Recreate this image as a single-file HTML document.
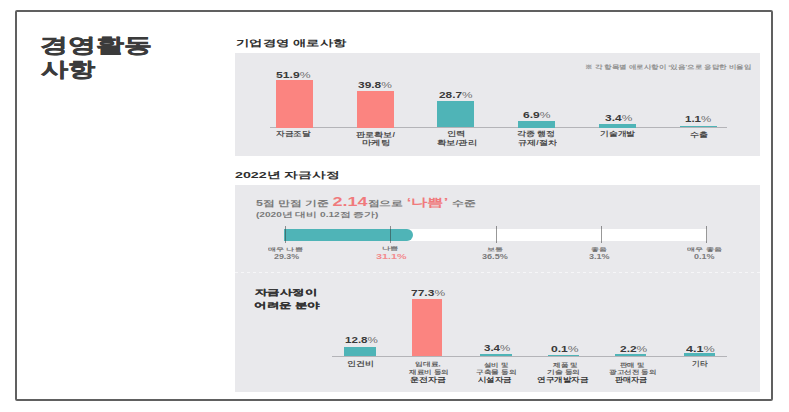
<!DOCTYPE html>
<html><head><meta charset="utf-8">
<style>
html,body{margin:0;padding:0;background:#fff;}
body{width:789px;height:412px;position:relative;overflow:hidden;font-family:"Liberation Sans",sans-serif;color:#3a3a3a;}
.a{position:absolute;white-space:nowrap;line-height:1;transform-origin:0 0;}
.a i{font-style:normal;font-weight:normal;color:#6f6f6f;}
.red{color:#f07a7c;}
.frame{position:absolute;left:15px;top:10px;width:754px;height:386.5px;border:2px solid #606060;border-radius:2px;}
.panel{position:absolute;background:#e9e9ec;}
.bar{position:absolute;}
.pk{background:#fb8480;}
.tl{background:#4fb4b7;}
.axis{position:absolute;height:1px;background:#b4b4b8;}
.tk{position:absolute;width:1px;background:rgba(50,50,50,0.5);}
</style></head>
<body>
<div class="frame"></div>
<div class="panel" style="left:235px;top:53px;width:525px;height:103px;"></div>
<div class="panel" style="left:235px;top:185px;width:525px;height:207px;"></div>

<div class="axis" style="left:270px;top:127px;width:457px;"></div>
<div class="bar pk" style="left:275.5px;top:80px;width:37px;height:47.5px;"></div>
<div class="bar pk" style="left:356.5px;top:91px;width:37px;height:36.5px;"></div>
<div class="bar tl" style="left:437px;top:100.8px;width:37px;height:26.7px;"></div>
<div class="bar tl" style="left:518px;top:120.5px;width:37px;height:7px;"></div>
<div class="bar tl" style="left:598.8px;top:124px;width:37px;height:3.5px;"></div>
<div class="bar tl" style="left:679.5px;top:125.8px;width:37px;height:1.7px;"></div>

<div class="bar" style="left:284px;top:228.6px;width:423px;height:12px;background:#fff;"></div>
<div class="bar tl" style="left:284px;top:228.6px;width:129px;height:12px;border-radius:0 6px 6px 0;"></div>
<div class="tk" style="left:285px;top:226px;height:16.5px;"></div>
<div class="tk" style="left:390px;top:226px;height:16.5px;"></div>
<div class="tk" style="left:496px;top:226px;height:16.5px;"></div>
<div class="tk" style="left:601px;top:226px;height:16.5px;"></div>
<div class="tk" style="left:706px;top:226px;height:16.5px;"></div>

<div style="position:absolute;left:235px;top:272px;width:525px;height:1px;background:repeating-linear-gradient(90deg,#f6f6f8 0 3px,transparent 3px 6px);"></div>

<div class="axis" style="left:332px;top:356px;width:395px;"></div>
<div class="bar tl" style="left:344px;top:346.8px;width:31.5px;height:9.2px;"></div>
<div class="bar pk" style="left:412px;top:299.2px;width:30px;height:56.8px;"></div>
<div class="bar tl" style="left:480px;top:354.2px;width:31.5px;height:1.8px;"></div>
<div class="bar tl" style="left:548px;top:354.5px;width:30.5px;height:1.5px;"></div>
<div class="bar tl" style="left:614.8px;top:354.2px;width:31.3px;height:1.8px;"></div>
<div class="bar tl" style="left:683.8px;top:353.3px;width:30.8px;height:2.7px;"></div>
<div class="a" id="h1a" style="left:40.30px;top:34.83px;font-size:20.05px;transform:scaleX(1.398);font-weight:700;-webkit-text-stroke:0.45px #3b3b3b;color:#3b3b3b;">경영활동</div>
<div class="a" id="h1b" style="left:40.50px;top:59.22px;font-size:20.05px;transform:scaleX(1.357);font-weight:700;-webkit-text-stroke:0.45px #3b3b3b;color:#3b3b3b;">사항</div>
<div class="a" id="st1" style="left:235.95px;top:38.67px;font-size:9.30px;transform:scaleX(1.480);font-weight:700;color:#2e2e2e;">기업경영 애로사항</div>
<div class="a" id="st2" style="left:235.10px;top:171.27px;font-size:9.30px;transform:scaleX(1.533);font-weight:700;color:#2e2e2e;">2022년 자금사정</div>
<div class="a" id="s3a" style="left:255.45px;top:289.25px;font-size:7.79px;transform:scaleX(1.548);font-weight:700;color:#333;-webkit-text-stroke:0.2px #333;">자금사정이</div>
<div class="a" id="s3b" style="left:254.10px;top:302.05px;font-size:7.79px;transform:scaleX(1.564);font-weight:700;color:#333;-webkit-text-stroke:0.2px #333;">어려운 분야</div>
<div class="a" id="note" style="left:584.75px;top:64.33px;font-size:6.03px;transform:scaleX(1.247);color:#8e8e8e;font-weight:700;">※ 각 항목별 애로사항이 ‘있음’으로 응답한 비율임</div>
<div class="a" id="v1" style="left:275.85px;top:71.35px;font-size:8.31px;transform:scaleX(1.466);font-weight:700;color:#3a3a3a;">51.9<i>%</i></div>
<div class="a" id="v2" style="left:358.15px;top:81.15px;font-size:8.31px;transform:scaleX(1.439);font-weight:700;color:#3a3a3a;">39.8<i>%</i></div>
<div class="a" id="v3" style="left:439.05px;top:91.15px;font-size:8.31px;transform:scaleX(1.423);font-weight:700;color:#3a3a3a;">28.7<i>%</i></div>
<div class="a" id="v4" style="left:522.60px;top:110.75px;font-size:8.31px;transform:scaleX(1.456);font-weight:700;color:#3a3a3a;">6.9<i>%</i></div>
<div class="a" id="v5" style="left:604.65px;top:113.75px;font-size:8.31px;transform:scaleX(1.440);font-weight:700;color:#3a3a3a;">3.4<i>%</i></div>
<div class="a" id="v6" style="left:685.00px;top:114.75px;font-size:8.31px;transform:scaleX(1.386);font-weight:700;color:#3a3a3a;">1.1<i>%</i></div>
<div class="a" id="lab1" style="left:276.45px;top:131.40px;font-size:6.75px;transform:scaleX(1.236);color:#4a4a4a;font-weight:700;">자금조달</div>
<div class="a" id="lab2a" style="left:356.05px;top:132.20px;font-size:6.75px;transform:scaleX(1.304);color:#4a4a4a;font-weight:700;">판로확보/</div>
<div class="a" id="lab2b" style="left:361.70px;top:140.40px;font-size:6.75px;transform:scaleX(1.349);color:#4a4a4a;font-weight:700;">마케팅</div>
<div class="a" id="lab3a" style="left:446.85px;top:131.20px;font-size:6.75px;transform:scaleX(1.336);color:#4a4a4a;font-weight:700;">인력</div>
<div class="a" id="lab3b" style="left:437.10px;top:139.80px;font-size:6.75px;transform:scaleX(1.336);color:#4a4a4a;font-weight:700;">확보/관리</div>
<div class="a" id="lab4a" style="left:517.35px;top:131.40px;font-size:6.75px;transform:scaleX(1.284);color:#4a4a4a;font-weight:700;">각종 행정</div>
<div class="a" id="lab4b" style="left:518.10px;top:140.00px;font-size:6.75px;transform:scaleX(1.300);color:#4a4a4a;font-weight:700;">규제/절차</div>
<div class="a" id="lab5" style="left:600.20px;top:130.60px;font-size:6.75px;transform:scaleX(1.259);color:#4a4a4a;font-weight:700;">기술개발</div>
<div class="a" id="lab6" style="left:689.65px;top:131.60px;font-size:6.75px;transform:scaleX(1.296);color:#4a4a4a;font-weight:700;">수출</div>
<div class="a" id="l1" style="left:255.80px;top:196.08px;font-size:8.40px;transform:scaleX(1.482);color:#7a7a7a;font-weight:700;">5점 만점 기준 <b class="red" style="font-size:1.45em">2.14</b>점으로 <b class="red" style="font-size:1.3em">‘나쁨’</b> 수준</div>
<div class="a" id="l2" style="left:255.75px;top:211.58px;font-size:6.50px;transform:scaleX(1.553);color:#7a7a7a;font-weight:700;">(2020년 대비 0.12점 증가)</div>
<div class="a" id="t1a" style="left:268.35px;top:247.03px;font-size:5.13px;transform:scaleX(1.616);color:#707070;font-weight:700;">매우 나쁨</div>
<div class="a" id="t1b" style="left:273.65px;top:252.82px;font-size:7.48px;transform:scaleX(1.188);color:#7a7a7a;font-weight:700;">29.3%</div>
<div class="a" id="t2a" style="left:381.60px;top:246.23px;font-size:5.13px;transform:scaleX(1.639);color:#707070;font-weight:700;">나쁨</div>
<div class="a" id="t2b" style="left:376.05px;top:253.23px;font-size:7.48px;transform:scaleX(1.444);color:#f38a8c;font-weight:700;">31.1%</div>
<div class="a" id="t3a" style="left:486.65px;top:246.62px;font-size:5.13px;transform:scaleX(1.619);color:#707070;font-weight:700;">보통</div>
<div class="a" id="t3b" style="left:481.55px;top:252.62px;font-size:7.48px;transform:scaleX(1.216);color:#7a7a7a;font-weight:700;">36.5%</div>
<div class="a" id="t4a" style="left:591.10px;top:246.62px;font-size:5.13px;transform:scaleX(1.583);color:#707070;font-weight:700;">좋음</div>
<div class="a" id="t4b" style="left:588.75px;top:252.62px;font-size:7.48px;transform:scaleX(1.210);color:#7a7a7a;font-weight:700;">3.1%</div>
<div class="a" id="t5a" style="left:686.50px;top:246.62px;font-size:5.13px;transform:scaleX(1.621);color:#707070;font-weight:700;">매우 좋음</div>
<div class="a" id="t5b" style="left:693.60px;top:252.62px;font-size:7.48px;transform:scaleX(1.206);color:#7a7a7a;font-weight:700;">0.1%</div>
<div class="a" id="w1" style="left:345.20px;top:336.25px;font-size:9.04px;transform:scaleX(1.283);font-weight:700;color:#3a3a3a;">12.8<i>%</i></div>
<div class="a" id="w2" style="left:410.90px;top:289.45px;font-size:9.04px;transform:scaleX(1.330);font-weight:700;color:#3a3a3a;">77.3<i>%</i></div>
<div class="a" id="w3" style="left:483.75px;top:344.45px;font-size:9.04px;transform:scaleX(1.276);font-weight:700;color:#3a3a3a;">3.4<i>%</i></div>
<div class="a" id="w4" style="left:551.00px;top:344.85px;font-size:9.04px;transform:scaleX(1.343);font-weight:700;color:#3a3a3a;">0.1<i>%</i></div>
<div class="a" id="w5" style="left:619.50px;top:344.85px;font-size:9.04px;transform:scaleX(1.323);font-weight:700;color:#3a3a3a;">2.2<i>%</i></div>
<div class="a" id="w6" style="left:685.85px;top:345.10px;font-size:9.04px;transform:scaleX(1.396);font-weight:700;color:#3a3a3a;">4.1<i>%</i></div>
<div class="a" id="m1" style="left:346.65px;top:361.40px;font-size:6.75px;transform:scaleX(1.290);color:#4a4a4a;font-weight:700;">인건비</div>
<div class="a" id="m2a" style="left:415.45px;top:362.28px;font-size:5.69px;transform:scaleX(1.300);color:#5a5a5a;font-weight:700;">임대료,</div>
<div class="a" id="m2b" style="left:408.70px;top:369.88px;font-size:5.69px;transform:scaleX(1.259);color:#5a5a5a;font-weight:700;">재료비 등의</div>
<div class="a" id="m2c" style="left:410.30px;top:376.65px;font-size:6.55px;transform:scaleX(1.281);color:#333;font-weight:700;">운전자금</div>
<div class="a" id="m3a" style="left:484.05px;top:362.88px;font-size:5.69px;transform:scaleX(1.237);color:#5a5a5a;font-weight:700;">설비 및</div>
<div class="a" id="m3b" style="left:475.85px;top:369.57px;font-size:5.69px;transform:scaleX(1.276);color:#5a5a5a;font-weight:700;">구축물 등의</div>
<div class="a" id="m3c" style="left:478.05px;top:376.85px;font-size:6.55px;transform:scaleX(1.214);color:#333;font-weight:700;">시설자금</div>
<div class="a" id="m4a" style="left:552.60px;top:362.88px;font-size:5.69px;transform:scaleX(1.257);color:#5a5a5a;font-weight:700;">제품 및</div>
<div class="a" id="m4b" style="left:546.80px;top:369.82px;font-size:5.69px;transform:scaleX(1.297);color:#5a5a5a;font-weight:700;">기술 등의</div>
<div class="a" id="m4c" style="left:537.20px;top:376.85px;font-size:6.55px;transform:scaleX(1.232);color:#333;font-weight:700;">연구개발자금</div>
<div class="a" id="m5a" style="left:619.55px;top:362.88px;font-size:5.69px;transform:scaleX(1.237);color:#5a5a5a;font-weight:700;">판매 및</div>
<div class="a" id="m5b" style="left:608.60px;top:370.07px;font-size:5.69px;transform:scaleX(1.252);color:#5a5a5a;font-weight:700;">광고선전 등의</div>
<div class="a" id="m5c" style="left:614.75px;top:376.85px;font-size:6.55px;transform:scaleX(1.161);color:#333;font-weight:700;">판매자금</div>
<div class="a" id="m6" style="left:691.50px;top:360.80px;font-size:6.75px;transform:scaleX(1.107);color:#4a4a4a;font-weight:700;">기타</div>
</body></html>
